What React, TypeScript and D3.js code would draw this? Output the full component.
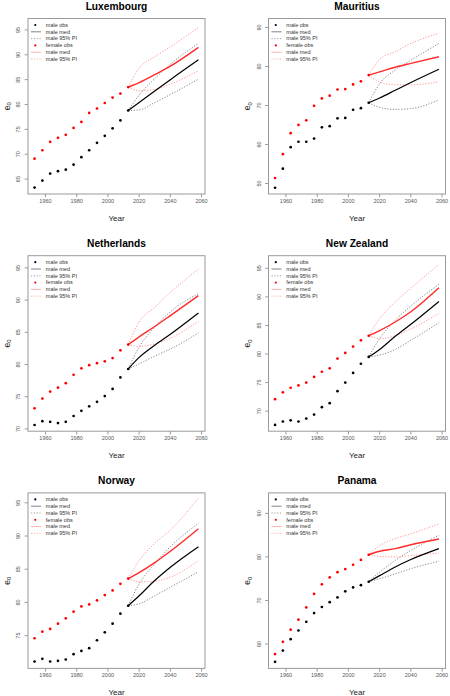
import React from "react";
import * as d3 from "d3";

const obsYears = [1953, 1958, 1963, 1968, 1973, 1978, 1983, 1988, 1993, 1998, 2003, 2008, 2013];
const projYears = [2013, 2020, 2030, 2040, 2058];
const xTicks = [1960, 1980, 2000, 2020, 2040, 2060];
const legendLabels = ["male obs", "male med", "male 95% PI", "female obs", "male med", "male 95% PI"];

// Luxembourg
const luxMaleObs = [63.3, 64.7, 66.1, 66.6, 66.9, 67.9, 69.4, 70.8, 72.3, 73.7, 75.2, 76.8, 78.8];
const luxFemaleObs = [69.1, 70.8, 72.5, 73.3, 73.9, 75.3, 76.5, 78.3, 79.2, 80.3, 81.4, 82.2, 83.5];
const luxMaleMed = [78.8, 80.4, 82.7, 85.0, 89.0];
const luxMaleHi = [78.8, 81.9, 85.2, 88.1, 92.3];
const luxMaleLo = [78.8, 78.9, 80.4, 82.0, 85.1];
const luxFemaleMed = [83.5, 84.4, 86.0, 87.7, 91.5];
const luxFemaleHi = [83.5, 87.3, 89.6, 91.6, 95.5];
const luxFemaleLo = [83.5, 82.8, 83.0, 84.1, 86.8];
const luxYTicks = [65, 70, 75, 80, 85, 90, 95];
const luxYDomain = [62.0, 97.3];

// Mauritius
const mauMaleObs = [48.9, 53.8, 59.3, 60.7, 60.7, 61.5, 64.4, 64.7, 66.7, 66.8, 68.9, 69.3, 70.7];
const mauFemaleObs = [51.4, 57.5, 62.9, 65.0, 66.2, 69.9, 71.8, 72.5, 74.1, 74.2, 75.4, 76.2, 77.8];
const mauMaleMed = [70.7, 71.9, 73.9, 75.9, 79.3];
const mauMaleHi = [70.7, 75.6, 79.1, 81.6, 85.9];
const mauMaleLo = [70.7, 69.5, 69.0, 69.2, 71.4];
const mauFemaleMed = [77.8, 78.6, 79.8, 80.8, 82.5];
const mauFemaleHi = [77.8, 81.8, 83.8, 85.9, 88.5];
const mauFemaleLo = [77.8, 76.0, 75.3, 75.3, 76.1];
const mauYTicks = [50, 60, 70, 80, 90];
const mauYDomain = [47.3, 92.3];

// Netherlands
const nldMaleObs = [70.6, 71.2, 71.1, 70.9, 71.1, 72.0, 72.8, 73.5, 74.2, 75.1, 76.2, 78.0, 79.3];
const nldFemaleObs = [73.2, 74.7, 75.8, 76.4, 77.1, 78.4, 79.4, 79.9, 80.2, 80.5, 81.0, 82.2, 83.1];
const nldMaleMed = [79.3, 81.1, 83.0, 84.7, 88.0];
const nldMaleHi = [79.3, 82.7, 85.8, 88.2, 91.0];
const nldMaleLo = [79.3, 80.1, 81.3, 82.4, 84.9];
const nldFemaleMed = [83.1, 84.3, 85.9, 87.6, 90.7];
const nldFemaleHi = [83.1, 86.6, 88.9, 91.2, 94.8];
const nldFemaleLo = [83.1, 82.8, 83.2, 84.1, 86.7];
const nldYTicks = [70, 75, 80, 85, 90, 95];
const nldYDomain = [69.64, 96.9];

// New Zealand
const nzlMaleObs = [67.6, 68.2, 68.4, 68.2, 68.7, 69.4, 70.7, 71.4, 73.5, 75.0, 76.7, 78.3, 79.5];
const nzlFemaleObs = [72.1, 73.3, 74.1, 74.5, 75.0, 76.0, 76.9, 77.5, 79.2, 80.2, 81.3, 82.4, 83.2];
const nzlMaleMed = [79.5, 80.8, 83.1, 85.2, 89.2];
const nzlMaleHi = [79.5, 82.7, 85.9, 88.4, 92.2];
const nzlMaleLo = [79.5, 79.8, 80.8, 82.4, 85.5];
const nzlFemaleMed = [83.2, 84.1, 85.6, 87.4, 91.6];
const nzlFemaleHi = [83.2, 86.2, 89.1, 91.5, 95.7];
const nzlFemaleLo = [83.2, 82.7, 83.2, 84.4, 87.1];
const nzlYTicks = [70, 75, 80, 85, 90, 95];
const nzlYDomain = [66.5, 97.2];

// Norway
const norMaleObs = [71.1, 71.5, 71.1, 71.2, 71.4, 72.2, 72.7, 73.1, 74.3, 75.5, 76.8, 78.3, 79.5];
const norFemaleObs = [74.6, 75.6, 76.0, 76.8, 77.6, 78.6, 79.4, 79.7, 80.3, 81.1, 81.8, 82.8, 83.6];
const norMaleMed = [79.5, 81.0, 83.3, 85.3, 88.4];
const norMaleHi = [79.5, 82.8, 85.8, 88.4, 91.9];
const norMaleLo = [79.5, 79.8, 81.0, 82.3, 84.6];
const norFemaleMed = [83.6, 84.5, 86.0, 87.7, 91.1];
const norFemaleHi = [83.6, 86.3, 88.9, 90.9, 95.7];
const norFemaleLo = [83.6, 83.1, 83.2, 83.8, 86.3];
const norYTicks = [75, 80, 85, 90, 95];
const norYDomain = [70.06, 96.5];

// Panama
const panMaleObs = [55.9, 58.5, 61.1, 63.1, 65.1, 67.1, 68.5, 69.6, 70.7, 72.1, 73.0, 73.5, 74.3];
const panFemaleObs = [57.7, 60.5, 63.3, 65.6, 68.4, 71.5, 73.7, 75.3, 76.5, 77.2, 78.2, 79.3, 80.5];
const panMaleMed = [74.3, 75.7, 77.7, 79.4, 81.9];
const panMaleHi = [74.3, 76.5, 79.2, 81.5, 85.0];
const panMaleLo = [74.3, 75.0, 76.1, 77.3, 79.0];
const panFemaleMed = [80.5, 81.3, 81.9, 82.8, 84.1];
const panFemaleHi = [80.5, 82.6, 84.2, 85.3, 87.6];
const panFemaleLo = [80.5, 80.1, 80.0, 80.3, 80.9];
const panYTicks = [60, 70, 80, 90];
const panYDomain = [54.4, 94.7];

const countries = ["Luxembourg", "Mauritius", "Netherlands", "New Zealand", "Norway", "Panama"];

const panels = [
  { name: countries[0], mObs: luxMaleObs, fObs: luxFemaleObs, mMed: luxMaleMed, mHi: luxMaleHi, mLo: luxMaleLo, fMed: luxFemaleMed, fHi: luxFemaleHi, fLo: luxFemaleLo, yTicks: luxYTicks, yDomain: luxYDomain },
  { name: countries[1], mObs: mauMaleObs, fObs: mauFemaleObs, mMed: mauMaleMed, mHi: mauMaleHi, mLo: mauMaleLo, fMed: mauFemaleMed, fHi: mauFemaleHi, fLo: mauFemaleLo, yTicks: mauYTicks, yDomain: mauYDomain },
  { name: countries[2], mObs: nldMaleObs, fObs: nldFemaleObs, mMed: nldMaleMed, mHi: nldMaleHi, mLo: nldMaleLo, fMed: nldFemaleMed, fHi: nldFemaleHi, fLo: nldFemaleLo, yTicks: nldYTicks, yDomain: nldYDomain },
  { name: countries[3], mObs: nzlMaleObs, fObs: nzlFemaleObs, mMed: nzlMaleMed, mHi: nzlMaleHi, mLo: nzlMaleLo, fMed: nzlFemaleMed, fHi: nzlFemaleHi, fLo: nzlFemaleLo, yTicks: nzlYTicks, yDomain: nzlYDomain },
  { name: countries[4], mObs: norMaleObs, fObs: norFemaleObs, mMed: norMaleMed, mHi: norMaleHi, mLo: norMaleLo, fMed: norFemaleMed, fHi: norFemaleHi, fLo: norFemaleLo, yTicks: norYTicks, yDomain: norYDomain },
  { name: countries[5], mObs: panMaleObs, fObs: panFemaleObs, mMed: panMaleMed, mHi: panMaleHi, mLo: panMaleLo, fMed: panFemaleMed, fHi: panFemaleHi, fLo: panFemaleLo, yTicks: panYTicks, yDomain: panYDomain },
];

const FONT = "'Liberation Sans', Arial, Helvetica, sans-serif";
const COLX = [28, 268.5];
const ROW0 = 18.5;
const ROWPITCH = 237.2;
const BW = 177;
const BH = 175.5;
const XDOMAIN = [1948.8, 2062.2];

const C = {
  box: "#9a9a9a",
  tickText: "#555",
  male: "#000",
  malePI: "#7a7a7a",
  female: "#ff0000",
  femaleMed: "#ff2a2a",
  femalePI: "#ff8a8a",
};

function Panel({ p, i }: { p: any; i: number }) {
  const col = i % 2;
  const row = Math.floor(i / 2);
  const x0 = COLX[col];
  const y0 = ROW0 + row * ROWPITCH;
  const x = d3.scaleLinear().domain(XDOMAIN).range([x0, x0 + BW]);
  const y = d3.scaleLinear().domain(p.yDomain).range([y0 + BH, y0]);
  const line = d3
    .line<number>()
    .x((_, k) => x(projYears[k]))
    .y((v) => y(v))
    .curve(d3.curveMonotoneX);

  const legRows = [6.5, 13.3, 20.1, 26.9, 33.7, 40.5].map((d) => y0 + d);
  const lx = x0;

  return (
    <g>
      <text x={x0 + BW / 2} y={y0 - 8.5} textAnchor="middle" fontFamily={FONT} fontWeight="bold" fontSize={10.2} fill="#000">
        {p.name}
      </text>
      <rect x={x0} y={y0} width={BW} height={BH} fill="none" stroke={C.box} strokeWidth={1} />
      {xTicks.map((t) => (
        <g key={"xt" + t}>
          <line x1={x(t)} x2={x(t)} y1={y0 + BH} y2={y0 + BH + 3.3} stroke={C.box} strokeWidth={1} />
          <text x={x(t)} y={y0 + BH + 8.6} textAnchor="middle" fontFamily={FONT} fontSize={5.5} fill={C.tickText}>
            {t}
          </text>
        </g>
      ))}
      {p.yTicks.map((t: number) => (
        <g key={"yt" + t}>
          <line x1={x0 - 3.3} x2={x0} y1={y(t)} y2={y(t)} stroke={C.box} strokeWidth={1} />
          <text
            transform={`translate(${x0 - 7.6},${y(t)}) rotate(-90)`}
            textAnchor="middle"
            fontFamily={FONT}
            fontSize={5.5}
            fill={C.tickText}
          >
            {t}
          </text>
        </g>
      ))}
      <text x={x0 + BW / 2} y={y0 + BH + 26.5} textAnchor="middle" fontFamily={FONT} fontSize={8} fill="#222">
        Year
      </text>
      <text transform={`translate(${x0 - 18.5},${y0 + BH / 2}) rotate(-90)`} textAnchor="middle" fontFamily={FONT} fontSize={8.5} fill="#222">
        e<tspan dy={1.8} fontSize={6}>0</tspan>
      </text>

      {/* projections */}
      <path d={line(p.mHi) || ""} fill="none" stroke={C.malePI} strokeWidth={0.9} strokeDasharray="1.2 1.6" />
      <path d={line(p.mLo) || ""} fill="none" stroke={C.malePI} strokeWidth={0.9} strokeDasharray="1.2 1.6" />
      <path d={line(p.fHi) || ""} fill="none" stroke={C.femalePI} strokeWidth={0.9} strokeDasharray="1.2 1.6" />
      <path d={line(p.fLo) || ""} fill="none" stroke={C.femalePI} strokeWidth={0.9} strokeDasharray="1.2 1.6" />
      <path d={line(p.mMed) || ""} fill="none" stroke={C.male} strokeWidth={1.2} />
      <path d={line(p.fMed) || ""} fill="none" stroke={C.femaleMed} strokeWidth={1.4} />

      {/* observations */}
      {p.mObs.map((v: number, k: number) => (
        <circle key={"m" + k} cx={x(obsYears[k])} cy={y(v)} r={1.35} fill={C.male} />
      ))}
      {p.fObs.map((v: number, k: number) => (
        <circle key={"f" + k} cx={x(obsYears[k])} cy={y(v)} r={1.35} fill={C.female} />
      ))}

      {/* legend */}
      {legendLabels.map((lab, k) => (
        <text key={"lt" + k} x={lx + 17.8} y={legRows[k] + 1.8} fontFamily={FONT} fontSize={5.5} fill="#333">
          {lab}
        </text>
      ))}
      <circle cx={lx + 7.3} cy={legRows[0]} r={1.1} fill={C.male} />
      <line x1={lx + 3} x2={lx + 13} y1={legRows[1]} y2={legRows[1]} stroke="#666" strokeWidth={0.8} />
      <line x1={lx + 3} x2={lx + 13} y1={legRows[2]} y2={legRows[2]} stroke="#888" strokeWidth={0.8} strokeDasharray="1.2 1.6" />
      <circle cx={lx + 7.3} cy={legRows[3]} r={1.1} fill={C.female} />
      <line x1={lx + 3} x2={lx + 13} y1={legRows[4]} y2={legRows[4]} stroke="#ff9a9a" strokeWidth={0.8} />
      <line x1={lx + 3} x2={lx + 13} y1={legRows[5]} y2={legRows[5]} stroke="#ff9a9a" strokeWidth={0.8} strokeDasharray="1.2 1.6" />
    </g>
  );
}

export default function App() {
  return (
    <svg
      width={450}
      height={696}
      viewBox="0 0 450 696"
      style={{ position: "absolute", left: 0, top: 0, display: "block", background: "#fff" }}
    >
      <rect x={0} y={0} width={450} height={696} fill="#fff" />
      {panels.map((p, i) => (
        <Panel key={p.name} p={p} i={i} />
      ))}
    </svg>
  );
}
